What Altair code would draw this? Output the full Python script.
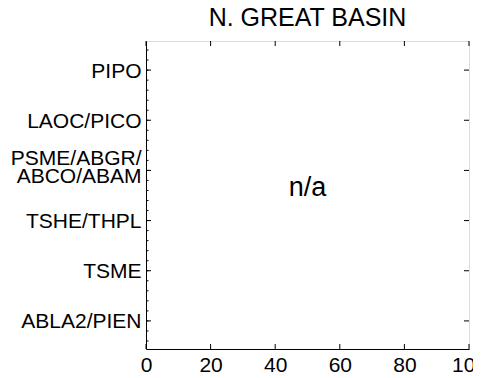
import json
import altair as alt
import pandas as pd

# ---- data ----
categories = ["ABLA2/PIEN", "TSME", "TSHE/THPL", "PSME/ABGR/|ABCO/ABAM", "LAOC/PICO", "PIPO"]
category_pos = [1, 2, 3, 4, 5, 6]
x_ticks = [0, 20, 40, 60, 80, 100]
y_minor = [round(0.6 + 0.2 * i, 1) for i in range(30)]
title_text = "N. GREAT BASIN"
note_text = ["n/a"]
note_x = [50]
note_y = [3.5]

W, H = 323, 308
FONT = "Liberation Sans"

xscale = alt.Scale(domain=[0, 100], nice=False, zero=False)
yscale = alt.Scale(domain=[0.44, 6.58], nice=False, zero=False)

label_expr = "split(" + json.dumps(categories) + "[round(datum.value) - 1], '|')"

xaxis = alt.Axis(values=x_ticks, title=None, ticks=False, tickSize=0, grid=False,
                 labelPadding=5, labelFontSize=21, labelFont=FONT, labelColor="black",
                 domainColor="black", labelFlush=False, labelOverlap=False)
yaxis = alt.Axis(values=category_pos, title=None, ticks=False, tickSize=0, grid=False,
                 labelPadding=5, labelFontSize=21, labelFont=FONT, labelColor="black",
                 domainColor="black", labelExpr=label_expr, labelLineHeight=18,
                 labelOffset={"condition": {"test": "datum.value == 4", "value": -12}, "value": 1},
                 labelOverlap=False, labelFlush=False)

ydf = pd.DataFrame({"pos": category_pos})
xdf = pd.DataFrame({"xt": x_ticks})
mdf = pd.DataFrame({"m": y_minor})
ndf = pd.DataFrame({"x": note_x, "y": note_y, "t": note_text})

Y = alt.Y("pos:Q", scale=yscale, axis=yaxis)
X = alt.X("xt:Q", scale=xscale, axis=xaxis)

left_ticks = alt.Chart(ydf).mark_rule(color="black").encode(y=Y, x=alt.value(0), x2=alt.value(5))
right_ticks = alt.Chart(ydf).mark_rule(color="black").encode(y=Y, x=alt.value(W - 5), x2=alt.value(W))
minor_ticks = alt.Chart(mdf).mark_rule(color="black").encode(
    y=alt.Y("m:Q", scale=yscale, axis=yaxis), x=alt.value(0), x2=alt.value(2.5))
bottom_ticks = alt.Chart(xdf).mark_rule(color="black").encode(x=X, y=alt.value(H), y2=alt.value(H - 5))
top_ticks = alt.Chart(xdf).mark_rule(color="black").encode(x=X, y=alt.value(0), y2=alt.value(5))
note = alt.Chart(ndf).mark_text(fontSize=27, font=FONT, color="black", baseline="alphabetic",
                                align="center").encode(
    x=alt.X("x:Q", scale=xscale, axis=xaxis),
    y=alt.Y("y:Q", scale=yscale, axis=yaxis),
    text="t:N")

chart = alt.layer(left_ticks, right_ticks, minor_ticks, bottom_ticks, top_ticks, note).properties(
    width=W, height=H,
    title=alt.TitleParams(title_text, fontSize=25, font=FONT, fontWeight="normal", color="black",
                          anchor="middle", offset=10),
    autosize=alt.AutoSizeParams(type="none"),
    padding={"left": 138, "top": 33, "right": 4, "bottom": 29},
).configure_view(stroke="#666666", strokeWidth=1).configure(background="white")

chart.save("out.html", embed_options={"renderer": "svg", "actions": False})
